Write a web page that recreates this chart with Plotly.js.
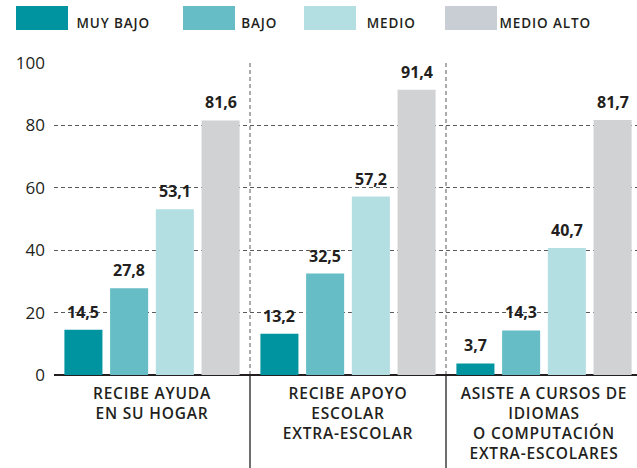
<!DOCTYPE html>
<html>
<head>
<meta charset="utf-8">
<script src="https://cdn.plot.ly/plotly-3.0.1.min.js"></script>
<style>
html,body{margin:0;padding:0;background:#fff;}
#chart{width:637px;height:468px;}
#chart .xtick text{letter-spacing:0.8px;}
#chart .annotation[data-index="0"] text,
#chart .annotation[data-index="1"] text,
#chart .annotation[data-index="2"] text,
#chart .annotation[data-index="3"] text{letter-spacing:0.9px;}
</style>
</head>
<body>
<div id="chart"></div>
<script>
// ---- data ----
var categories = [
  "RECIBE AYUDA<br>EN SU HOGAR",
  "RECIBE APOYO<br>ESCOLAR<br>EXTRA-ESCOLAR",
  "ASISTE A CURSOS DE<br>IDIOMAS<br>O COMPUTACIÓN<br>EXTRA-ESCOLARES"
];
var seriesNames = ["MUY BAJO", "BAJO", "MEDIO", "MEDIO ALTO"];
var muyBajo   = [14.5, 13.2, 3.7];
var bajo      = [27.8, 32.5, 14.3];
var medio     = [53.1, 57.2, 40.7];
var medioAlto = [81.6, 91.4, 81.7];
var yTicks = [0, 20, 40, 60, 80, 100];

// ---- style ----
var barColors = ["#0093a0", "#66bdc6", "#b3dfe3", "#d1d2d4"];
var legendColors = ["#0093a0", "#66bdc6", "#b3dfe3", "#c9ced4"];
var FONT = "Open Sans, sans-serif";
var TXT = "#231f20";

var W = 637, H = 468;
var M = {l: 54, r: 0, t: 63, b: 93};
var plotW = W - M.l - M.r, plotH = H - M.t - M.b;
var catPx = 196;            // pixel width of one category
var BARGAP = 0.067, GROUPGAP = 0.168;
function px2x(px) { return (px - M.l) / plotW; }
function py2y(py) { return (H - M.b - py) / plotH; }

var allSeries = [muyBajo, bajo, medio, medioAlto];
var traces = allSeries.map(function (vals, i) {
  return {
    type: "bar",
    name: seriesNames[i],
    x: categories,
    y: vals,
    marker: {color: barColors[i], line: {width: 0}},
    hoverinfo: "skip",
    showlegend: false
  };
});

var shapes = [];
var annotations = [];

// legend drawn as swatches + labels (annotations 0..3)
var swX = [16, 183, 304, 445];
var txX = [78, 241, 367, 502];
seriesNames.forEach(function (nm, i) {
  shapes.push({type: "rect", xref: "paper", yref: "paper",
    x0: px2x(swX[i]), x1: px2x(swX[i] + 52), y0: py2y(30), y1: py2y(6),
    fillcolor: legendColors[i], line: {width: 0}});
  annotations.push({xref: "paper", yref: "paper", x: px2x(txX[i]), y: py2y(23),
    xanchor: "left", yanchor: "middle", showarrow: false, text: nm,
    font: {family: FONT, size: 13.5, color: TXT, weight: 600}});
});

// value labels above each bar, placed through the axes
var nS = allSeries.length;
var slotPx = catPx * (1 - BARGAP) / nS;
allSeries.forEach(function (vals, i) {
  vals.forEach(function (v, j) {
    annotations.push({xref: "x", yref: "y", x: categories[j], y: v,
      xshift: (i - (nS - 1) / 2) * slotPx, yshift: 5,
      xanchor: "center", yanchor: "bottom", showarrow: false,
      text: v.toFixed(1).replace(".", ","),
      font: {family: FONT, size: 16, color: TXT, weight: 700}});
  });
});

// group separators: dashed inside plot, solid below axis
[0.5, 1.5].forEach(function (xv) {
  shapes.push({type: "line", xref: "x", yref: "y", x0: xv, x1: xv, y0: 0, y1: 100,
    line: {color: "#58595b", width: 1, dash: "4px,3px"}, layer: "below"});
  shapes.push({type: "line", xref: "x", yref: "paper", x0: xv, x1: xv, y0: 0, y1: py2y(H),
    line: {color: TXT, width: 1.3}});
});

var layout = {
  width: W, height: H,
  margin: M,
  paper_bgcolor: "#fff", plot_bgcolor: "#fff",
  barmode: "group",
  bargap: BARGAP,
  bargroupgap: GROUPGAP,
  showlegend: false,
  font: {family: FONT, color: TXT},
  xaxis: {
    type: "category",
    range: [-0.5, -0.5 + plotW / catPx],
    showgrid: false, zeroline: false, showline: false,
    ticks: "", ticklabelstandoff: 7,
    tickfont: {family: FONT, size: 15.5, color: TXT, weight: 600}
  },
  yaxis: {
    range: [0, 100],
    tickvals: yTicks,
    ticktext: yTicks.map(String),
    showgrid: true, gridcolor: "#58595b", gridwidth: 1, griddash: "4px,3px",
    zeroline: true, zerolinecolor: TXT, zerolinewidth: 1.6,
    showline: false, ticks: "", ticklabelstandoff: 8,
    tickfont: {family: FONT, size: 17, color: TXT, weight: 500},
    fixedrange: true
  },
  shapes: shapes,
  annotations: annotations
};

Plotly.newPlot("chart", traces, layout, {displayModeBar: false, staticPlot: true});
</script>
</body>
</html>
